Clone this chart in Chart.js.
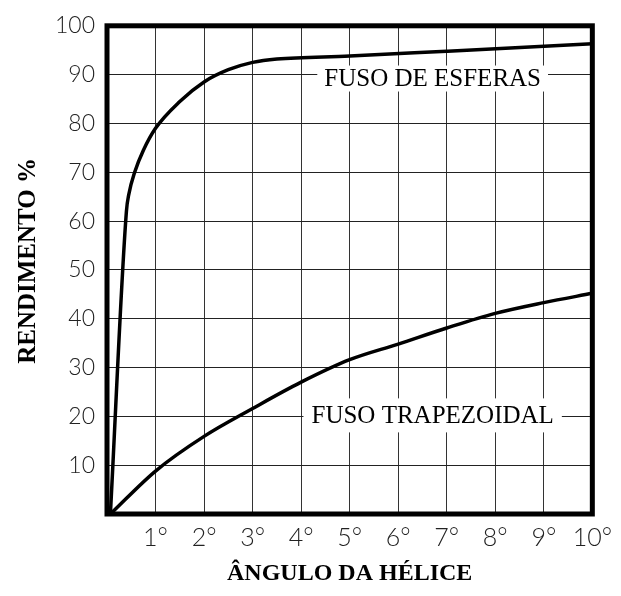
<!DOCTYPE html>
<html><head><meta charset="utf-8">
<script src="https://cdn.jsdelivr.net/npm/chart.js@4/dist/chart.umd.min.js"></script>
<style>html,body{margin:0;padding:0;background:#fff}#wrap{width:621px;height:596px}</style>
</head><body><div id="wrap"><canvas id="c" width="621" height="596"></canvas></div>
<script>
// ---- data ----
const xTickLabels = ['1°','2°','3°','4°','5°','6°','7°','8°','9°','10°'];
const yTickLabels = ['10','20','30','40','50','60','70','80','90','100'];
const seriesNames = ['FUSO DE ESFERAS', 'FUSO TRAPEZOIDAL'];
const xTitle = 'ÂNGULO DA HÉLICE';
const yTitle = 'RENDIMENTO %';
const esferasX = [0.07, 0.40, 0.45, 0.57, 0.75, 1.0, 1.5, 2.0, 2.5, 3.0, 3.5, 5, 7, 10];
const esferasY = [0, 62, 65.5, 70, 74.5, 79, 84.5, 88.5, 91, 92.5, 93.2, 93.8, 94.8, 96.3];
const trapX = [0.07, 1, 2, 3, 4, 5, 6, 7, 8, 9, 10];
const trapY = [0, 8.8, 15.9, 21.6, 27.0, 31.6, 34.8, 38.1, 41.1, 43.3, 45.2];
// label anchors (data coordinates of text centre)
const labelAnchorX = [6.71, 6.71];
const labelAnchorY = [89.2, 20.2];

const toPts = (xs, ys) => xs.map((x, i) => ({x, y: ys[i]}));

const framePlugin = {
  id: 'frame',
  afterDatasetsDraw(chart) {
    const {ctx, chartArea: a, scales} = chart;
    const boxes = [{pw: 7, h: 26}, {pw: 8, h: 34}];
    ctx.save();
    ctx.font = '25px "Liberation Serif", "Times New Roman", serif';
    ctx.textAlign = 'center';
    ctx.textBaseline = 'middle';
    seriesNames.forEach((t, i) => {
      const cx = scales.x.getPixelForValue(labelAnchorX[i]);
      const cy = scales.y.getPixelForValue(labelAnchorY[i]);
      const w = ctx.measureText(t).width + 2 * boxes[i].pw;
      ctx.fillStyle = '#fff';
      ctx.fillRect(cx - w / 2, cy - boxes[i].h / 2, w, boxes[i].h);
      ctx.fillStyle = '#000';
      ctx.fillText(t, cx, cy + 1);
    });
    ctx.restore();
  },
  afterDraw(chart) {
    const {ctx, chartArea: a} = chart;
    ctx.save();
    ctx.strokeStyle = '#000';
    ctx.lineWidth = 5;
    ctx.strokeRect(a.left, a.top, a.right - a.left, a.bottom - a.top);
    // vertical axis title
    ctx.translate(29, (a.top + a.bottom) / 2 - 9);
    ctx.rotate(-Math.PI / 2);
    ctx.font = 'bold 25px "Liberation Serif", serif';
    ctx.textAlign = 'center';
    ctx.textBaseline = 'middle';
    ctx.fillStyle = '#000';
    ctx.fillText(yTitle, 0, 0);
    ctx.restore();
  }
};

new Chart(document.getElementById('c'), {
  type: 'scatter',
  data: {
    datasets: [
      {label: seriesNames[0], data: toPts(esferasX, esferasY)},
      {label: seriesNames[1], data: toPts(trapX, trapY)}
    ].map(d => Object.assign(d, {
      showLine: true, borderColor: '#000', borderWidth: 3.5, pointRadius: 0,
      cubicInterpolationMode: 'monotone', fill: false
    }))
  },
  options: {
    responsive: false, animation: false, devicePixelRatio: 1,
    layout: {padding: {top: 24, right: 24, left: 0, bottom: 0}},
    plugins: {legend: {display: false}, tooltip: {enabled: false}},
    scales: {
      x: {
        type: 'linear', min: 0, max: 10,
        afterFit: s => { s.height = 82; },
        border: {display: false},
        grid: {color: '#333', lineWidth: 1, drawTicks: false},
        ticks: {
          stepSize: 1, padding: 9, color: '#222',
          font: {family: 'Lato, "DejaVu Sans", sans-serif', size: 25, weight: '300'},
          callback: v => v === 0 ? '' : xTickLabels[v - 1]
        },
        title: {display: true, text: xTitle, color: '#000', padding: {top: 0, bottom: 8},
          font: {family: '"Liberation Serif", serif', size: 24, weight: 'bold'}}
      },
      y: {
        type: 'linear', min: 0, max: 100,
        afterFit: s => { s.width = 107; },
        border: {display: false},
        grid: {color: '#222', lineWidth: 1, drawTicks: false},
        ticks: {
          stepSize: 10, padding: 12, color: '#222',
          font: {family: 'Lato, "DejaVu Sans", sans-serif', size: 23, weight: '300'},
          callback: v => v === 0 ? '' : yTickLabels[v / 10 - 1]
        }
      }
    }
  },
  plugins: [framePlugin]
});
</script></body></html>
